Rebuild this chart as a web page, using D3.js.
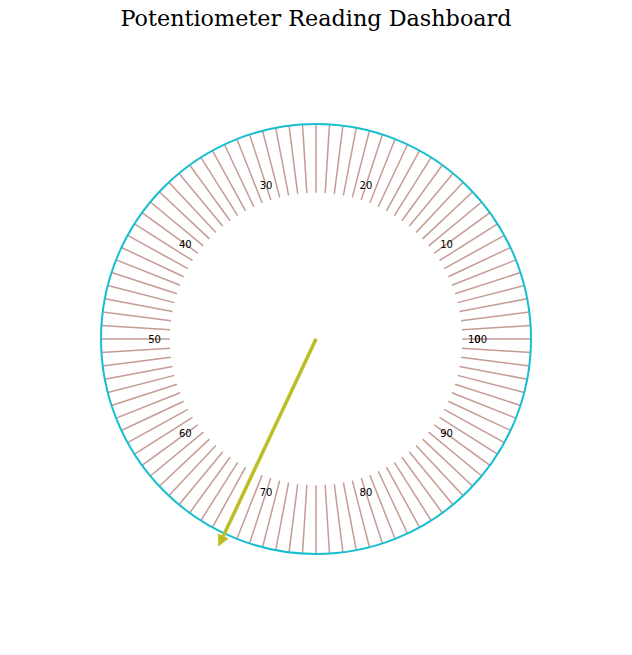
<!DOCTYPE html>
<html>
<head>
<meta charset="utf-8">
<script src="https://cdn.jsdelivr.net/npm/d3@7"></script>
<style>
  html, body { margin: 0; padding: 0; background: #fff; }
  svg { display: block; }
</style>
</head>
<body>
<svg id="chart" width="632" height="655"></svg>
<script>
// ---- data ----
const title = "Potentiometer Reading Dashboard";
const gaugeMin = 0;
const gaugeMax = 100;
const tickValues = d3.range(0, 100, 1);           // minor tick lines
const labelValues = [0, 10, 20, 30, 40, 50, 60, 70, 80, 90, 100];
const reading = 68;                                // needle value

// ---- layout ----
const W = 632, H = 655;
const cx = 316, cy = 339;
const R = 215;

const svg = d3.select("#chart");

// value -> angle (radians, counter-clockwise from east)
const angle = d3.scaleLinear().domain([gaugeMin, gaugeMax]).range([0, 2 * Math.PI]);
// normalized radius -> pixels
const rad = d3.scaleLinear().domain([0, 1]).range([0, R]);

const px = (v, r) => cx + rad(r) * Math.cos(angle(v));
const py = (v, r) => cy - rad(r) * Math.sin(angle(v));

// title
svg.append("text")
  .attr("x", W / 2).attr("y", 26)
  .attr("text-anchor", "middle")
  .attr("font-family", "DejaVu Serif")
  .attr("font-size", 22.3)
  .attr("fill", "#000")
  .text(title);

// tick lines
svg.append("g").selectAll("line")
  .data(tickValues)
  .join("line")
  .attr("x1", d => px(d, 0.68))
  .attr("y1", d => py(d, 0.68))
  .attr("x2", d => px(d, 1))
  .attr("y2", d => py(d, 1))
  .attr("stroke", "#c49c94")
  .attr("stroke-width", 1.5);

// outer circle
svg.append("circle")
  .attr("cx", cx).attr("cy", cy).attr("r", rad(1))
  .attr("fill", "none")
  .attr("stroke", "#17becf")
  .attr("stroke-width", 2);

// labels (0 and 100 share the same position, as in the reference)
svg.append("g").selectAll("text")
  .data(labelValues)
  .join("text")
  .attr("x", d => px(d, 0.751))
  .attr("y", d => py(d, 0.751))
  .attr("text-anchor", "middle")
  .attr("dominant-baseline", "central")
  .attr("font-family", "DejaVu Sans")
  .attr("font-size", 10)
  .attr("fill", "#000")
  .text(d => d);

// needle (arrow)
const a = angle(reading);
const ux = Math.cos(a), uy = -Math.sin(a);     // unit direction in screen coords
const nx = -uy, ny = ux;                        // normal
const tipR = rad(1.065);
const headLen = 11, headHalf = 5.5, shaftHalf = 1.5;
const baseR = tipR - headLen;
const pts = [
  [cx + nx * shaftHalf, cy + ny * shaftHalf],
  [cx + ux * baseR + nx * shaftHalf, cy + uy * baseR + ny * shaftHalf],
  [cx + ux * baseR + nx * headHalf, cy + uy * baseR + ny * headHalf],
  [cx + ux * tipR, cy + uy * tipR],
  [cx + ux * baseR - nx * headHalf, cy + uy * baseR - ny * headHalf],
  [cx + ux * baseR - nx * shaftHalf, cy + uy * baseR - ny * shaftHalf],
  [cx - nx * shaftHalf, cy - ny * shaftHalf]
];
svg.append("path")
  .attr("d", d3.line()(pts) + "Z")
  .attr("fill", "#bcbd22")
  .attr("stroke", "#bcbd22")
  .attr("stroke-width", 0.5);
</script>
</body>
</html>
